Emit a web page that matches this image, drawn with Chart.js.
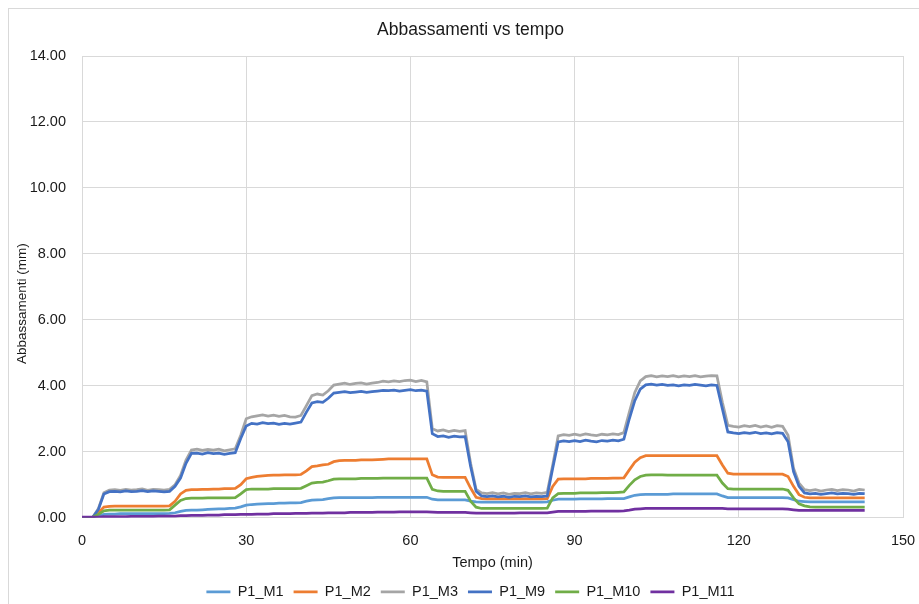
<!DOCTYPE html>
<html>
<head>
<meta charset="utf-8">
<script src="https://cdn.jsdelivr.net/npm/chart.js@4/dist/chart.umd.min.js"></script>
<style>
  body { margin: 0; background: #fff; }
  #frame { position: absolute; left: 8px; top: 8px; width: 930px; height: 620px; border: 1px solid #d9d9d9; }
  #chart { position: absolute; left: 0; top: 0; }
</style>
</head>
<body>
<div id="frame"></div>
<canvas id="chart" width="919" height="604"></canvas>
<script>
// tempo (min)
const tempo = [
  0, 1, 2, 3, 4, 5, 6, 7, 8, 9,
  10, 11, 12, 13, 14, 15, 16, 17, 18, 19,
  20, 21, 22, 23, 24, 25, 26, 27, 28, 29,
  30, 31, 32, 33, 34, 35, 36, 37, 38, 39,
  40, 41, 42, 43, 44, 45, 46, 47, 48, 49,
  50, 51, 52, 53, 54, 55, 56, 57, 58, 59,
  60, 61, 62, 63, 64, 65, 66, 67, 68, 69,
  70, 71, 72, 73, 74, 75, 76, 77, 78, 79,
  80, 81, 82, 83, 84, 85, 86, 87, 88, 89,
  90, 91, 92, 93, 94, 95, 96, 97, 98, 99,
  100, 101, 102, 103, 104, 105, 106, 107, 108, 109,
  110, 111, 112, 113, 114, 115, 116, 117, 118, 119,
  120, 121, 122, 123, 124, 125, 126, 127, 128, 129,
  130, 131, 132, 133, 134, 135, 136, 137, 138, 139,
  140, 141, 142, 143
];

// abbassamenti (mm)
const p1m1 = [
  0.00, 0.01, 0.02, 0.06, 0.10, 0.11, 0.11, 0.12, 0.12, 0.12,
  0.12, 0.12, 0.12, 0.12, 0.12, 0.12, 0.13, 0.15, 0.19, 0.22,
  0.23, 0.23, 0.24, 0.25, 0.26, 0.27, 0.27, 0.28, 0.29, 0.33,
  0.38, 0.40, 0.41, 0.42, 0.43, 0.43, 0.44, 0.44, 0.45, 0.45,
  0.46, 0.50, 0.53, 0.54, 0.55, 0.58, 0.60, 0.61, 0.61, 0.61,
  0.61, 0.61, 0.61, 0.61, 0.62, 0.62, 0.62, 0.62, 0.62, 0.62,
  0.62, 0.62, 0.62, 0.62, 0.56, 0.54, 0.54, 0.54, 0.54, 0.54,
  0.54, 0.50, 0.48, 0.47, 0.47, 0.47, 0.47, 0.47, 0.47, 0.47,
  0.47, 0.47, 0.47, 0.47, 0.47, 0.48, 0.53, 0.56, 0.56, 0.56,
  0.56, 0.57, 0.57, 0.57, 0.57, 0.57, 0.58, 0.58, 0.58, 0.58,
  0.63, 0.68, 0.70, 0.71, 0.71, 0.71, 0.71, 0.71, 0.72, 0.72,
  0.72, 0.72, 0.72, 0.72, 0.72, 0.72, 0.72, 0.66, 0.61, 0.61,
  0.61, 0.61, 0.61, 0.61, 0.61, 0.61, 0.61, 0.61, 0.61, 0.60,
  0.55, 0.50, 0.49, 0.48, 0.48, 0.48, 0.48, 0.48, 0.48, 0.48,
  0.48, 0.48, 0.48, 0.48
];
const p1m2 = [
  0.00, 0.01, 0.02, 0.15, 0.32, 0.34, 0.35, 0.35, 0.35, 0.35,
  0.35, 0.35, 0.35, 0.35, 0.35, 0.35, 0.36, 0.50, 0.72, 0.83,
  0.85, 0.85, 0.86, 0.86, 0.87, 0.87, 0.88, 0.88, 0.89, 1.00,
  1.18, 1.22, 1.25, 1.27, 1.28, 1.29, 1.29, 1.30, 1.30, 1.30,
  1.31, 1.42, 1.55, 1.57, 1.60, 1.62, 1.70, 1.73, 1.74, 1.74,
  1.74, 1.75, 1.75, 1.75, 1.76, 1.77, 1.78, 1.78, 1.78, 1.78,
  1.78, 1.78, 1.78, 1.78, 1.30, 1.23, 1.22, 1.22, 1.22, 1.22,
  1.22, 0.90, 0.62, 0.58, 0.57, 0.57, 0.57, 0.57, 0.57, 0.57,
  0.57, 0.57, 0.57, 0.57, 0.57, 0.58, 0.95, 1.17, 1.18, 1.18,
  1.18, 1.18, 1.18, 1.19, 1.19, 1.19, 1.19, 1.20, 1.20, 1.21,
  1.45, 1.68, 1.82, 1.88, 1.88, 1.88, 1.88, 1.88, 1.88, 1.88,
  1.88, 1.88, 1.88, 1.88, 1.88, 1.88, 1.88, 1.60, 1.35, 1.32,
  1.32, 1.32, 1.32, 1.32, 1.32, 1.32, 1.32, 1.32, 1.32, 1.25,
  0.95, 0.70, 0.62, 0.60, 0.60, 0.60, 0.60, 0.60, 0.60, 0.60,
  0.60, 0.60, 0.60, 0.60
];
const p1m3 = [
  0.00, 0.01, 0.02, 0.28, 0.76, 0.84, 0.85, 0.83, 0.86, 0.84,
  0.85, 0.87, 0.83, 0.86, 0.85, 0.84, 0.86, 1.00, 1.28, 1.75,
  2.05, 2.08, 2.04, 2.07, 2.05, 2.08, 2.03, 2.06, 2.09, 2.50,
  3.00, 3.06, 3.09, 3.12, 3.08, 3.11, 3.07, 3.10, 3.06, 3.05,
  3.10, 3.40, 3.70, 3.75, 3.72, 3.85, 4.02, 4.05, 4.08, 4.04,
  4.07, 4.09, 4.05, 4.08, 4.10, 4.14, 4.12, 4.15, 4.13, 4.16,
  4.17, 4.13, 4.16, 4.12, 2.70, 2.63, 2.66, 2.61, 2.65, 2.62,
  2.64, 1.65, 0.86, 0.75, 0.73, 0.76, 0.72, 0.75, 0.71, 0.74,
  0.73, 0.76, 0.72, 0.75, 0.74, 0.77, 1.60, 2.48, 2.52, 2.50,
  2.53, 2.50, 2.54, 2.51, 2.49, 2.53, 2.51, 2.54, 2.52, 2.58,
  3.20, 3.80, 4.15, 4.28, 4.31, 4.27, 4.30, 4.28, 4.31, 4.27,
  4.30, 4.28, 4.31, 4.27, 4.29, 4.31, 4.30, 3.50, 2.80, 2.77,
  2.75, 2.79, 2.76, 2.80, 2.75, 2.78, 2.74, 2.79, 2.77, 2.50,
  1.50, 1.05, 0.85, 0.82, 0.85, 0.81, 0.84, 0.86, 0.82, 0.85,
  0.84, 0.81, 0.86, 0.84
];
const p1m9 = [
  0.00, 0.01, 0.02, 0.25, 0.72, 0.79, 0.80, 0.78, 0.81, 0.79,
  0.80, 0.82, 0.79, 0.81, 0.80, 0.78, 0.80, 0.95, 1.20, 1.65,
  1.95, 1.96, 1.93, 1.97, 1.94, 1.96, 1.92, 1.95, 1.97, 2.40,
  2.78, 2.86, 2.84, 2.88, 2.85, 2.87, 2.83, 2.86, 2.84, 2.87,
  2.90, 3.20, 3.48, 3.52, 3.50, 3.62, 3.78, 3.80, 3.82, 3.79,
  3.81, 3.83, 3.80, 3.82, 3.84, 3.86, 3.85, 3.87, 3.84, 3.86,
  3.88, 3.85, 3.87, 3.84, 2.55, 2.46, 2.48, 2.44, 2.47, 2.45,
  2.46, 1.55, 0.80, 0.66, 0.64, 0.66, 0.63, 0.65, 0.62, 0.65,
  0.64, 0.66, 0.63, 0.65, 0.64, 0.66, 1.50, 2.30, 2.33, 2.31,
  2.34, 2.31, 2.35, 2.32, 2.30, 2.34, 2.32, 2.35, 2.33, 2.38,
  3.00, 3.55, 3.90, 4.03, 4.05, 4.02, 4.04, 4.01, 4.03, 4.00,
  4.03, 4.01, 4.04, 4.02, 4.00, 4.03, 4.01, 3.30, 2.60, 2.57,
  2.55, 2.58, 2.56, 2.59, 2.55, 2.57, 2.54, 2.58, 2.56, 2.30,
  1.40, 0.95, 0.75, 0.72, 0.74, 0.71, 0.73, 0.75, 0.72, 0.74,
  0.73, 0.71, 0.74, 0.73
];
const p1m10 = [
  0.00, 0.01, 0.02, 0.10, 0.21, 0.23, 0.23, 0.23, 0.23, 0.23,
  0.23, 0.23, 0.23, 0.23, 0.23, 0.23, 0.24, 0.38, 0.52, 0.58,
  0.59, 0.59, 0.59, 0.60, 0.60, 0.60, 0.60, 0.60, 0.61, 0.72,
  0.85, 0.87, 0.87, 0.87, 0.87, 0.88, 0.88, 0.88, 0.88, 0.88,
  0.89, 0.97, 1.05, 1.07, 1.08, 1.12, 1.17, 1.18, 1.18, 1.18,
  1.18, 1.19, 1.19, 1.19, 1.19, 1.20, 1.20, 1.20, 1.20, 1.20,
  1.20, 1.20, 1.20, 1.20, 0.86, 0.81, 0.80, 0.80, 0.80, 0.80,
  0.80, 0.50, 0.32, 0.28, 0.28, 0.28, 0.28, 0.28, 0.28, 0.28,
  0.28, 0.28, 0.28, 0.28, 0.28, 0.29, 0.60, 0.73, 0.74, 0.74,
  0.74, 0.75, 0.75, 0.75, 0.75, 0.76, 0.76, 0.76, 0.77, 0.78,
  0.98, 1.15, 1.25, 1.29, 1.30, 1.30, 1.30, 1.29, 1.29, 1.29,
  1.29, 1.29, 1.29, 1.29, 1.29, 1.29, 1.29, 1.05, 0.88, 0.87,
  0.87, 0.87, 0.87, 0.87, 0.87, 0.87, 0.87, 0.87, 0.87, 0.83,
  0.60, 0.42, 0.36, 0.33, 0.32, 0.32, 0.32, 0.32, 0.32, 0.32,
  0.32, 0.32, 0.32, 0.32
];
const p1m11 = [
  0.02, 0.02, 0.02, 0.02, 0.03, 0.03, 0.03, 0.03, 0.03, 0.04,
  0.04, 0.04, 0.04, 0.04, 0.05, 0.05, 0.05, 0.05, 0.06, 0.06,
  0.07, 0.07, 0.07, 0.08, 0.08, 0.08, 0.09, 0.09, 0.09, 0.10,
  0.10, 0.10, 0.11, 0.11, 0.11, 0.12, 0.12, 0.12, 0.12, 0.13,
  0.13, 0.13, 0.14, 0.14, 0.14, 0.15, 0.15, 0.15, 0.15, 0.16,
  0.16, 0.16, 0.16, 0.16, 0.17, 0.17, 0.17, 0.17, 0.18, 0.18,
  0.18, 0.18, 0.18, 0.18, 0.17, 0.16, 0.16, 0.16, 0.16, 0.16,
  0.16, 0.15, 0.14, 0.14, 0.14, 0.14, 0.14, 0.14, 0.14, 0.14,
  0.15, 0.15, 0.15, 0.15, 0.15, 0.15, 0.17, 0.19, 0.19, 0.19,
  0.19, 0.19, 0.19, 0.20, 0.20, 0.20, 0.20, 0.20, 0.20, 0.21,
  0.23, 0.26, 0.27, 0.28, 0.28, 0.28, 0.28, 0.28, 0.28, 0.28,
  0.28, 0.28, 0.28, 0.28, 0.28, 0.28, 0.28, 0.28, 0.27, 0.27,
  0.27, 0.27, 0.27, 0.27, 0.27, 0.27, 0.27, 0.27, 0.27, 0.26,
  0.24, 0.22, 0.22, 0.22, 0.22, 0.22, 0.22, 0.22, 0.22, 0.22,
  0.22, 0.22, 0.22, 0.22
];

const seriesNames = ['P1_M1', 'P1_M2', 'P1_M3', 'P1_M9', 'P1_M10', 'P1_M11'];
const seriesValues = [p1m1, p1m2, p1m3, p1m9, p1m10, p1m11];
const seriesColors = ['#5B9BD5', '#ED7D31', '#A5A5A5', '#4472C4', '#70AD47', '#7030A0'];

const font = 'Liberation Sans, Arial, sans-serif';
const gridColor = '#d9d9d9';
const textColor = '#1a1a1a';

let datasets = seriesNames.map((name, i) => ({
  label: name,
  data: tempo.map((t, k) => ({ x: t, y: seriesValues[i][k] })),
  borderColor: seriesColors[i],
  backgroundColor: seriesColors[i],
  borderWidth: 2.75,
  pointRadius: 0,
  tension: 0,
  fill: false,
  // excel draws later series on top
  order: seriesNames.length - i
}));

let ctx = document.getElementById('chart');
let chart = new Chart(ctx, {
  type: 'line',
  data: { datasets: datasets },
  options: {
    responsive: false,
    animation: false,
    layout: { padding: { left: 26, right: 4, top: 0, bottom: -5 } },
    plugins: {
      title: {
        display: true,
        text: 'Abbassamenti vs tempo',
        color: textColor,
        font: { family: font, size: 17.5, weight: 'normal' },
        padding: { top: 20, bottom: 15 }
      },
      legend: {
        position: 'bottom',
        labels: {
          usePointStyle: true,
          pointStyle: 'line',
          pointStyleWidth: 24,
          color: textColor,
          font: { family: font, size: 14.5 },
          padding: 10,
          sort: (a, b) => a.datasetIndex - b.datasetIndex
        }
      },
      tooltip: { enabled: false }
    },
    scales: {
      x: {
        type: 'linear',
        min: 0,
        max: 150,
        ticks: { stepSize: 30, color: textColor, font: { family: font, size: 14.5 }, padding: 15 },
        grid: { color: gridColor, drawTicks: false },
        border: { color: gridColor },
        title: {
          display: true,
          text: 'Tempo (min)',
          color: textColor,
          font: { family: font, size: 14.5 },
          padding: { top: -11, bottom: 3 }
        },
        afterFit: axis => { axis.paddingRight = 16; }
      },
      y: {
        min: 0,
        max: 14,
        ticks: {
          stepSize: 2,
          color: textColor,
          font: { family: font, size: 14.5 },
          padding: 16,
          callback: v => v.toFixed(2)
        },
        grid: { color: gridColor, drawTicks: false },
        border: { color: gridColor },
        title: {
          display: true,
          // trailing spaces push the label down like in the excel original
          text: 'Abbassamenti (mm)         ',
          color: textColor,
          font: { family: font, size: 13.5 },
          padding: { top: -12, bottom: 0 }
        },
        afterFit: axis => { axis.width = 56; }
      }
    }
  }
});
</script>
</body>
</html>
